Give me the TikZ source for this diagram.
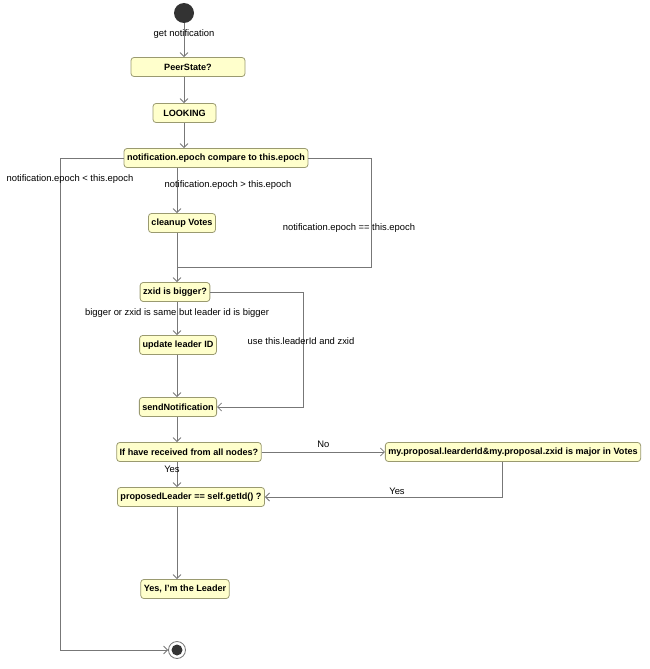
\documentclass[tikz,border=0pt]{standalone}
\usepackage{fontspec}
\setmainfont{Liberation Sans}
\usetikzlibrary{arrows.meta}
\definecolor{boxfill}{HTML}{FFFFCC}
\definecolor{boxline}{HTML}{9A9A70}
\definecolor{flowline}{HTML}{777777}
\tikzset{>={Straight Barb[length=4pt,width=8pt]}}
\tikzset{
  act/.style={draw=boxline,fill=boxfill,rounded corners=3pt,thick,
    minimum height=19pt,inner xsep=3pt,font=\fontsize{9.1}{10}\selectfont\bfseries},
  flow/.style={draw=flowline,thick},
  lbl/.style={font=\fontsize{9.4}{10}\selectfont,inner sep=0pt}
}

\begin{document}
\begin{tikzpicture}[x=1pt,y=-1pt]
    \useasboundingbox (0,0) rectangle (650,669);
    \coordinate (cA) at (184,0);
    \coordinate (cB) at (177,0);
    \fill[black!80] (184,13) circle (10pt);
    \coordinate (start) at (184,23);
    \node[act,minimum width=114pt] (peer) at (188,67) {PeerState?};
    \node[act,minimum width=63pt] (looking) at (184.5,113) {LOOKING};
    \node[act] (compare) at (216,158) {notification.epoch compare to this.epoch};
    \node[act] (cleanup) at (182,223) {cleanup Votes};
    \node[act] (zxid) at (175,292) {zxid is bigger?};
    \node[act] (update) at (178,345) {update leader ID};
    \node[act] (send) at (178,407) {sendNotification};
    \node[act] (recv) at (189,452) {If have received from all nodes?};
    \node[act] (major) at (513,452) {my.proposal.learderId\&my.proposal.zxid is major in Votes};
    \node[act] (proposed) at (191,497) {proposedLeader == self.getId() ?};
    \node[act] (leader) at (185,589) {Yes, I'm the Leader};
    \node[circle,draw=flowline,thick,fill=white,minimum size=17pt,inner sep=0pt] (final) at (177,650) {};
    \fill[black!80] (final) circle (5.5pt);
    \draw[flow,->] (start) -- (start |- peer.north);
    \node[lbl] at (184,34) {get notification};
    \draw[flow,->] (peer.south -| cA) -- (looking.north -| cA);
    \draw[flow,->] (looking.south -| cA) -- (compare.north -| cA);
    \draw[flow,->] (compare.west) -| (60,650) -- (final.west);
    \node[lbl] at (70,179) {notification.epoch < this.epoch};
    \draw[flow,->] (compare.south -| cB) -- (cleanup.north -| cB);
    \node[lbl] at (228,185) {notification.epoch > this.epoch};
    \coordinate (join) at (177,267);
    \draw[flow] (compare.east) -- (371,158) -- (371,267) -- (join);
    \node[lbl] at (349,228) {notification.epoch == this.epoch};
    \draw[flow,->] (cleanup.south -| cB) -- (zxid.north -| cB);
    \draw[flow,->] (zxid.east) -- (303,292) |- (send.east);
    \node[lbl] at (301,341) {use this.leaderId and zxid};
    \draw[flow,->] (zxid.south -| cB) -- (update.north -| cB);
    \node[lbl] at (177,313) {bigger or zxid is same but leader id is bigger};
    \draw[flow,->] (update.south -| cB) -- (send.north -| cB);
    \draw[flow,->] (send.south -| cB) -- (recv.north -| cB);
    \draw[flow,->] (recv.east) -- node[lbl,above=4pt,pos=0.5]{No} (major.west);
    \draw[flow,->] (recv.south -| cB) -- (proposed.north -| cB);
    \node[lbl] at (172,469) {Yes};
    \draw[flow,->] (major.south -| 502,0) |- (proposed.east);
    \node[lbl] at (397,491) {Yes};
    \draw[flow,->] (proposed.south -| cB) -- (leader.north -| cB);
  \end{tikzpicture}
\end{document}
